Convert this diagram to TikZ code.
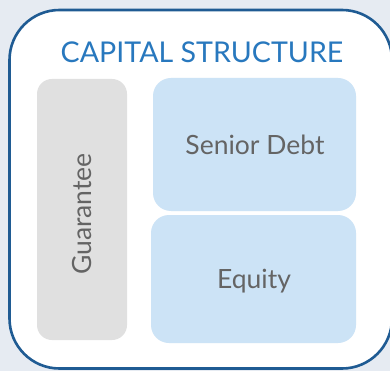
\documentclass[tikz,border=0pt]{standalone}
\usepackage{fontspec}
\setmainfont{Lato}
\usepackage{tikz}

\definecolor{pagebg}{HTML}{E6EBF2}
\definecolor{frameblue}{HTML}{1F5B93}
\definecolor{titleblue}{HTML}{2878BE}
\definecolor{boxgray}{HTML}{E0E0E0}
\definecolor{boxblue}{HTML}{CCE3F6}
\definecolor{labelgray}{HTML}{646464}

\begin{document}
\begin{tikzpicture}[x=1pt,y=-1pt,
  part/.style={rounded corners=16pt,text=labelgray,font=\fontsize{26.5}{30}\selectfont}]
\useasboundingbox (0,0) rectangle (390,371);
\fill[pagebg] (0,0) rectangle (390,371);
\begin{scope}
\clip (0,0) rectangle (390,371);
\draw[frameblue,line width=2.6pt,fill=white,rounded corners=50pt] (9.5,10) rectangle (392,368.5);
\end{scope}

\node (title) at (202,52) [text=titleblue,font=\fontsize{28.6}{32}\selectfont] {CAPITAL STRUCTURE};

\fill[boxgray,rounded corners=15pt] (37,79) rectangle (127,340);
\fill[boxblue,rounded corners=18pt] (153,78) rectangle (356,211);
\fill[boxblue,rounded corners=18pt] (151,215) rectangle (356,343);

\node (guarantee) at (82,214) [part,rotate=90] {Guarantee};
\node (debt) at (255,145) [part] {Senior Debt};
\node (equity) at (254,281) [part] {Equity};
\end{tikzpicture}
\end{document}
